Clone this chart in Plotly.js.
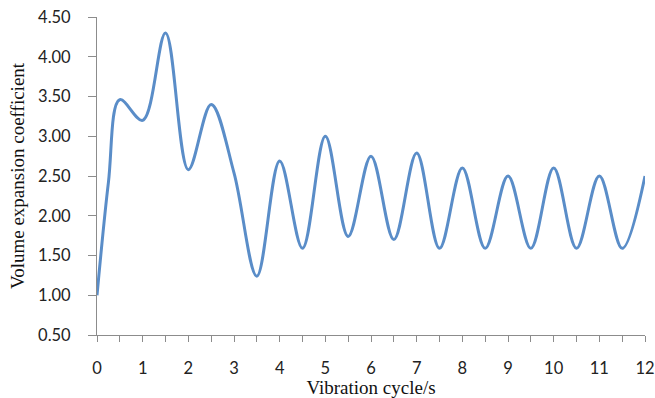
<!DOCTYPE html>
<html>
<head>
<meta charset="utf-8">
<script src="https://cdn.plot.ly/plotly-3.0.1.min.js"></script>
<style>html,body{margin:0;padding:0;background:#fff;}#chart{width:655px;height:398px;}</style>
</head>
<body>
<div id="chart"></div>
<script>
// Vibration cycle (s)
var cycles = [0, 0.25, 0.5, 1, 1.5, 2, 2.5, 3, 3.5, 4, 4.5, 5, 5.5, 6, 6.5, 7, 7.5, 8, 8.5, 9, 9.5, 10, 10.5, 11, 11.5, 12];
// Volume expansion coefficient
var coefficient = [1.00, 2.42, 3.46, 3.20, 4.30, 2.58, 3.40, 2.54, 1.24, 2.69, 1.59, 3.00, 1.74, 2.75, 1.70, 2.79, 1.59, 2.60, 1.59, 2.50, 1.59, 2.60, 1.59, 2.50, 1.59, 2.50];
var yTicks = [0.5, 1.0, 1.5, 2.0, 2.5, 3.0, 3.5, 4.0, 4.5];
var xTicks = [0, 1, 2, 3, 4, 5, 6, 7, 8, 9, 10, 11, 12];

var trace = {
  x: cycles,
  y: coefficient,
  type: 'scatter',
  mode: 'lines',
  line: {color: '#5a8dc8', width: 3, shape: 'spline', smoothing: 1},
  hoverinfo: 'x+y'
};

var tickFont = {family: 'Lato, "Open Sans", sans-serif', size: 16.5, color: '#222'};
var titleFont = {family: '"Liberation Serif", "Times New Roman", serif', size: 19, color: '#111'};

var layout = {
  width: 655,
  height: 398,
  margin: {l: 96.5, r: 10, t: 17, b: 63},
  paper_bgcolor: '#fff',
  plot_bgcolor: '#fff',
  showlegend: false,
  xaxis: {
    range: [0, 12],
    tickvals: xTicks,
    ticktext: xTicks.map(String),
    ticks: 'outside',
    ticklen: 6,
    tickwidth: 1,
    tickcolor: '#8c8c8c',
    minor: {dtick: 0.5, tick0: 0, ticks: 'outside', ticklen: 6, tickwidth: 1, tickcolor: '#8c8c8c'},
    showline: true,
    linecolor: '#8c8c8c',
    linewidth: 1,
    showgrid: false,
    zeroline: false,
    tickfont: tickFont,
    ticklabelstandoff: 12,
    title: {text: 'Vibration cycle/s', font: titleFont, standoff: 0}
  },
  yaxis: {
    range: [0.5, 4.5],
    tickvals: yTicks,
    ticktext: yTicks.map(function(v){return v.toFixed(2);}),
    ticks: 'outside',
    ticklen: 8,
    tickwidth: 1,
    tickcolor: '#8c8c8c',
    showline: true,
    linecolor: '#8c8c8c',
    linewidth: 1,
    showgrid: false,
    zeroline: false,
    tickfont: tickFont,
    ticklabelstandoff: 14,
    title: {text: 'Volume expansion coefficient', font: titleFont, standoff: 8}
  }
};

Plotly.newPlot('chart', [trace], layout, {displayModeBar: false, staticPlot: true});
</script>
</body>
</html>
